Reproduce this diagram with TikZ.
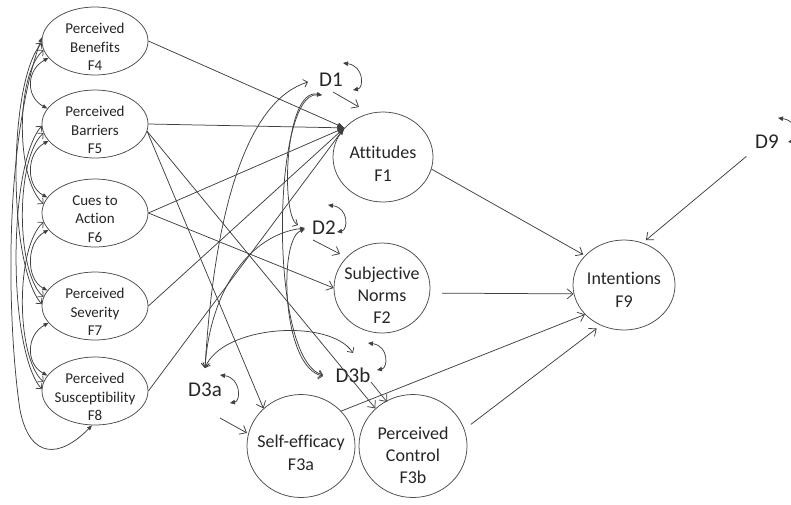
\documentclass[tikz,border=0pt]{standalone}
\usepackage{fontspec}
\setmainfont{Carlito}[Ligatures=NoCommon]
\usetikzlibrary{arrows.meta,shapes.geometric}
\begin{document}
\begin{tikzpicture}[x=1pt,y=-1pt,
  lc/.style={draw=black!75,line width=0.75pt},
  fac/.style={ellipse,draw=black!70,line width=0.75pt,inner sep=0pt},
  ftext/.style={align=center,text=black!85,inner sep=0pt},
  exo/.style={fac,minimum width=106pt,minimum height=68pt},
  exot/.style={ftext,font=\fontsize{15}{18.5}\selectfont,yshift=-6pt},
  endot/.style={ftext,font=\fontsize{18}{23}\selectfont,yshift=-7pt},
  dist/.style={inner sep=1pt,font=\fontsize{21}{24}\selectfont,text=black!85},
  oarr/.style={lc,-{Straight Barb[length=6pt,width=10pt]}},
  farr/.style={lc,-{Triangle[length=7pt,width=5pt]}},
  covff/.style={lc,{Triangle[length=5pt,width=4pt]}-{Triangle[length=5pt,width=4pt]}},
  covoo/.style={lc,{Straight Barb[length=4pt,width=8pt]}-{Straight Barb[length=4pt,width=8pt]}},
  covfo/.style={lc,{Triangle[length=5pt,width=4pt]}-{Straight Barb[length=4pt,width=8pt]}},
  selfl/.style={lc,{Triangle[length=5pt,width=4.5pt]}-{Triangle[length=5pt,width=4.5pt]}}
]
\useasboundingbox[fill=white] (0,0) rectangle (791,504);

% exogenous factors
\node[exo,label={[exot]center:{Perceived\\Benefits\\F4}}] (F4) at (95,41) {};
\node[exo,label={[exot]center:{Perceived\\Barriers\\F5}}] (F5) at (95,124) {};
\node[exo,label={[exot]center:{Cues to\\Action\\F6}}] (F6) at (95,213) {};
\node[exo,label={[exot]center:{Perceived\\Severity\\F7}}] (F7) at (95,306) {};
\node[exo,label={[exot]center:{Perceived\\Susceptibility\\F8}}] (F8) at (95,391) {};

% endogenous factors
\node[fac,minimum width=100pt,minimum height=90pt,label={[endot]center:{Attitudes\\F1}}] (F1) at (383,157) {};
\node[fac,minimum width=96pt,minimum height=90pt,label={[endot,font=\fontsize{18}{22}\selectfont]center:{Subjective\\Norms\\F2}}] (F2) at (382,288) {};
\node[fac,minimum width=102pt,minimum height=90pt,label={[endot,yshift=2pt]center:{Intentions\\F9}}] (F9) at (624,285) {};
\node[fac,minimum width=108pt,minimum height=103pt,label={[endot]center:{Self-efficacy\\F3a}}] (F3a) at (301,446) {};
\node[fac,minimum width=108pt,minimum height=103pt,label={[endot,font=\fontsize{18}{22}\selectfont,yshift=-2pt]center:{Perceived\\Control\\F3b}}] (F3b) at (413,446) {};

% disturbances
\node[dist] (D1) at (331,80) {D1};
\node[dist] (D2) at (324,228) {D2};
\node[dist] (D3a) at (205,390) {D3a};
\node[dist] (D3b) at (353,375) {D3b};
\node[dist] (D9) at (767,142) {D9};

% exogenous -> endogenous
\foreach \s in {F4,F5,F6,F7,F8} \draw[farr] (\s.east) -- (F1.143);
\draw[oarr] (F6.east) -- (F2.west);
\draw[oarr] (F5.-8) -- (F3a.135);
\draw[oarr] (F5.-8) -- (F3b.135);

% endogenous -> F9
\draw[oarr,shorten >=2pt] (F1.-14) -- (F9.143);
\draw[oarr,shorten <=12pt] (F2.-6) -- (F9.190);
\draw[oarr] (F3a.41) -- (F9.217);
\draw[oarr,shorten <=8pt,shorten >=5pt] (F3b.18) -- (F9.240);
\draw[oarr,shorten <=10pt,shorten >=4pt] (D9.south west) -- (F9.66);

% disturbances -> factors
\draw[oarr] ([shift={(2,12)}]D1.center) -- ([shift={(-24,-50)}]F1.center);
\draw[oarr] ([shift={(-11,12)}]D2.center) -- ([shift={(-42,-34)}]F2.center);
\draw[oarr] ([shift={(15,28)}]D3a.center) -- ([shift={(-54,-13)}]F3a.center);
\draw[oarr] ([shift={(18,7)}]D3b.center) -- ([shift={(-26,-44)}]F3b.center);

% covariances among exogenous factors
\draw[covff] (F4.200) .. controls +(-22,12) and +(-22,-12) .. (F5.162);
\draw[covff] (F5.200) .. controls +(-22,12) and +(-22,-12) .. (F6.162);
\draw[covff] (F6.200) .. controls +(-22,12) and +(-22,-12) .. (F7.162);
\draw[covff] (F7.200) .. controls +(-22,12) and +(-22,-12) .. (F8.162);
\draw[covoo] (F4.190) .. controls +(-28,25) and +(-28,-25) .. (F6.170);
\draw[covoo] (F5.190) .. controls +(-28,25) and +(-28,-25) .. (F7.170);
\draw[covoo] (F6.190) .. controls +(-28,25) and +(-28,-25) .. (F8.170);
\draw[covoo] (F4.182) .. controls +(-34,40) and +(-34,-40) .. (F7.178);
\draw[covoo] (F5.182) .. controls +(-34,40) and +(-34,-40) .. (F8.178);
\draw[covff] (F4.176) .. controls (2,150) and (8,330) .. (20,410) .. controls (30,460) and (60,458) .. (F8.-95);

% covariances among disturbances
\draw[covoo] ([shift={(-23,2)}]D1.center) .. controls (250,100) and (215,200) .. ([shift={(0,-22)}]D3a.center);
\draw[covfo] ([shift={(-19,0)}]D2.center) .. controls (250,235) and (210,290) .. ([shift={(0,-22)}]D3a.center);
\draw[covfo] ([shift={(-9,15)}]D1.center) .. controls (285,88) and (280,215) .. ([shift={(-26,-3)}]D2.center);
\draw[covfo] ([shift={(-9,15)}]D1.center) .. controls (272,92) and (268,360) .. ([shift={(-30,0)}]D3b.center);
\draw[covfo] ([shift={(-19,1)}]D2.center) .. controls (278,240) and (282,368) .. ([shift={(-30,1)}]D3b.center);
\draw[covoo] ([shift={(0,-22)}]D3a.center) .. controls (222,325) and (330,318) .. ([shift={(0,-22)}]D3b.center);

% disturbance variances
\draw[selfl] ([shift={(12,-17)}]D1.center) .. controls +(21,3) and +(11,-2) .. ([shift={(22,10)}]D1.center);
\draw[selfl] ([shift={(4,-23)}]D2.center) .. controls +(21,3) and +(11,-2) .. ([shift={(13,4)}]D2.center);
\draw[selfl] ([shift={(15,-15)}]D3a.center) .. controls +(21,3) and +(11,-2) .. ([shift={(25,13)}]D3a.center);
\draw[selfl] ([shift={(15,-32)}]D3b.center) .. controls +(21,3) and +(11,-2) .. ([shift={(24,-5)}]D3b.center);
\draw[selfl] ([shift={(11,-24)}]D9.center) .. controls +(21,3) and +(11,-2) .. ([shift={(21,0)}]D9.center);
\end{tikzpicture}
\end{document}
